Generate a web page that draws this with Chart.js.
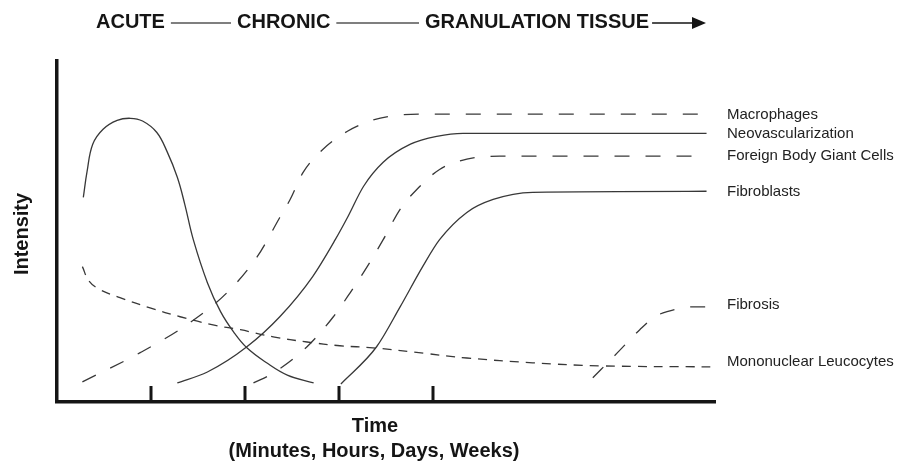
<!DOCTYPE html>
<html>
<head>
<meta charset="utf-8">
<script src="https://cdn.jsdelivr.net/npm/chart.js@4/dist/chart.umd.min.js"></script>
<style>
  html, body { margin: 0; padding: 0; background: #fff; }
  canvas { display: block; }
</style>
</head>
<body>
<canvas id="healingChart" width="901" height="465"></canvas>
<script>
// Curve data (x = time units, y = intensity 0-100)
const neutroX = [0.28, 0.32, 0.38, 0.49, 0.64, 0.78, 0.91, 1.06, 1.17, 1.28, 1.36, 1.45, 1.60, 1.74, 1.88, 2.02, 2.23, 2.45, 2.73];
const neutroY = [60, 67.6, 75.6, 80, 82.6, 83.2, 82.4, 79.1, 73.5, 65.9, 57.9, 47.6, 35, 26.5, 20.5, 15.9, 11.5, 7.9, 5.6];

const monoX = [0.27, 0.34, 0.46, 0.67, 0.99, 1.31, 1.66, 1.95, 2.30, 2.66, 3.01, 3.36, 3.90, 4.36, 5.06, 5.78, 6.95];
const monoY = [39.7, 35.5, 32.9, 30.6, 27.6, 25, 22.6, 21.2, 19.1, 17.6, 16.5, 15.9, 14.3, 12.9, 11.5, 10.6, 10.3];

const macroX = [0.27, 0.88, 1.41, 1.81, 2.13, 2.37, 2.48, 2.62, 2.83, 3.09, 3.33, 3.54, 3.86, 6.91];
const macroY = [5.9, 14.4, 23.2, 32.1, 42.6, 54.1, 59.4, 67.4, 74.1, 79.4, 82.4, 83.8, 84.4, 84.4];

const neovascX = [1.28, 1.60, 2.02, 2.37, 2.72, 2.96, 3.09, 3.26, 3.47, 3.76, 4.04, 4.32, 6.91];
const neovascY = [5.6, 8.8, 16.2, 25, 36.8, 47.6, 54.1, 63.2, 70.3, 75.6, 77.9, 78.8, 78.8];

const giantX = [2.09, 2.30, 2.66, 2.94, 3.12, 3.30, 3.47, 3.65, 3.83, 4.07, 4.36, 4.71, 6.84];
const giantY = [5.6, 8.5, 16.2, 25, 32.1, 39.7, 47.6, 56.5, 62.4, 68.2, 71.2, 72.1, 72.1];

const fibroblastX = [3.02, 3.40, 3.65, 3.89, 4.07, 4.36, 4.64, 5.06, 6.91];
const fibroblastY = [5.3, 16.2, 27.9, 39.7, 47.6, 55.6, 59.4, 61.5, 61.8];

const fibrosisX = [5.70, 5.96, 6.20, 6.36, 6.49, 6.77, 6.93];
const fibrosisY = [7.1, 14.4, 21.2, 25, 26.5, 27.9, 27.9];

const tickPositions = [1, 2, 3, 4];
const phaseLabels = ['ACUTE', 'CHRONIC', 'GRANULATION TISSUE'];

const LINE = '#383838';
const INK = '#151515';

function points(xs, ys) {
    return xs.map((x, i) => ({ x: x, y: ys[i] }));
}

function series(label, xs, ys, dash, endLabel, labelShift, smooth) {
    return {
        label: label,
        data: points(xs, ys),
        borderColor: LINE,
        borderWidth: 1.3,
        borderDash: dash,
        pointRadius: 0,
        fill: false,
        tension: 0.4,
        cubicInterpolationMode: smooth ? 'default' : 'monotone',
        endLabel: endLabel,
        labelShift: labelShift || 0
    };
}

// Tick marks, right-hand labels, titles and phase header
const decorations = {
    id: 'decorations',
    afterDraw(chart) {
        const ctx = chart.ctx;
        const xs = chart.scales.x;
        const area = chart.chartArea;
        ctx.save();

        // inward tick marks
        ctx.strokeStyle = INK;
        ctx.lineWidth = 3;
        tickPositions.forEach(v => {
            const px = Math.round(xs.getPixelForValue(v));
            ctx.beginPath();
            ctx.moveTo(px, area.bottom - 16);
            ctx.lineTo(px, area.bottom);
            ctx.stroke();
        });

        // series names at line ends
        ctx.fillStyle = '#222';
        ctx.font = '15px "Liberation Sans", Arial, sans-serif';
        ctx.textBaseline = 'middle';
        ctx.textAlign = 'left';
        chart.data.datasets.forEach((ds, i) => {
            if (!ds.endLabel) return;
            const meta = chart.getDatasetMeta(i);
            const last = meta.data[meta.data.length - 1];
            ctx.fillText(ds.endLabel, 727, last.y + ds.labelShift);
        });

        // axis titles
        ctx.fillStyle = INK;
        ctx.font = 'bold 20px "Liberation Sans", Arial, sans-serif';
        ctx.textAlign = 'center';
        ctx.fillText('Time', 375, 426);
        ctx.fillText('(Minutes, Hours, Days, Weeks)', 374, 451);

        ctx.save();
        ctx.translate(22, 234);
        ctx.rotate(-Math.PI / 2);
        ctx.fillText('Intensity', 0, 0);
        ctx.restore();

        // phase header
        ctx.textAlign = 'left';
        const starts = [96, 237, 425];
        const ends = [];
        phaseLabels.forEach((t, i) => {
            ctx.fillText(t, starts[i], 22);
            ends.push(starts[i] + ctx.measureText(t).width);
        });
        ctx.strokeStyle = '#555';
        ctx.lineWidth = 1.5;
        for (let i = 0; i < 2; i++) {
            ctx.beginPath();
            ctx.moveTo(ends[i] + 6, 23);
            ctx.lineTo(starts[i + 1] - 6, 23);
            ctx.stroke();
        }
        // arrow
        ctx.strokeStyle = INK;
        ctx.beginPath();
        ctx.moveTo(ends[2] + 3, 23);
        ctx.lineTo(695, 23);
        ctx.stroke();
        ctx.fillStyle = INK;
        ctx.beginPath();
        ctx.moveTo(706, 23);
        ctx.lineTo(692, 17);
        ctx.lineTo(692, 29);
        ctx.closePath();
        ctx.fill();

        ctx.restore();
    }
};

const ctx = document.getElementById('healingChart').getContext('2d');
new Chart(ctx, {
    type: 'line',
    data: {
        datasets: [
            series('Neutrophils', neutroX, neutroY, [], null, 0, true),
            series('Mononuclear Leucocytes', monoX, monoY, [9, 7], 'Mononuclear Leucocytes', -5, true),
            series('Macrophages', macroX, macroY, [15, 16], 'Macrophages', 1),
            series('Neovascularization', neovascX, neovascY, [], 'Neovascularization', 1),
            series('Foreign Body Giant Cells', giantX, giantY, [15, 16], 'Foreign Body Giant Cells', 0),
            series('Fibroblasts', fibroblastX, fibroblastY, [], 'Fibroblasts', 1),
            series('Fibrosis', fibrosisX, fibrosisY, [15, 16], 'Fibrosis', -2)
        ]
    },
    options: {
        responsive: false,
        animation: false,
        layout: { padding: { left: 57, right: 186, top: 61, bottom: 63 } },
        plugins: {
            legend: { display: false },
            tooltip: { enabled: false }
        },
        scales: {
            x: {
                type: 'linear',
                min: 0,
                max: 7,
                ticks: { display: false },
                grid: { display: false, drawTicks: false },
                border: { display: true, width: 3.5, color: INK }
            },
            y: {
                min: 0,
                max: 100,
                ticks: { display: false },
                grid: { display: false, drawTicks: false },
                border: { display: true, width: 3.5, color: INK }
            }
        }
    },
    plugins: [decorations]
});
</script>
</body>
</html>
